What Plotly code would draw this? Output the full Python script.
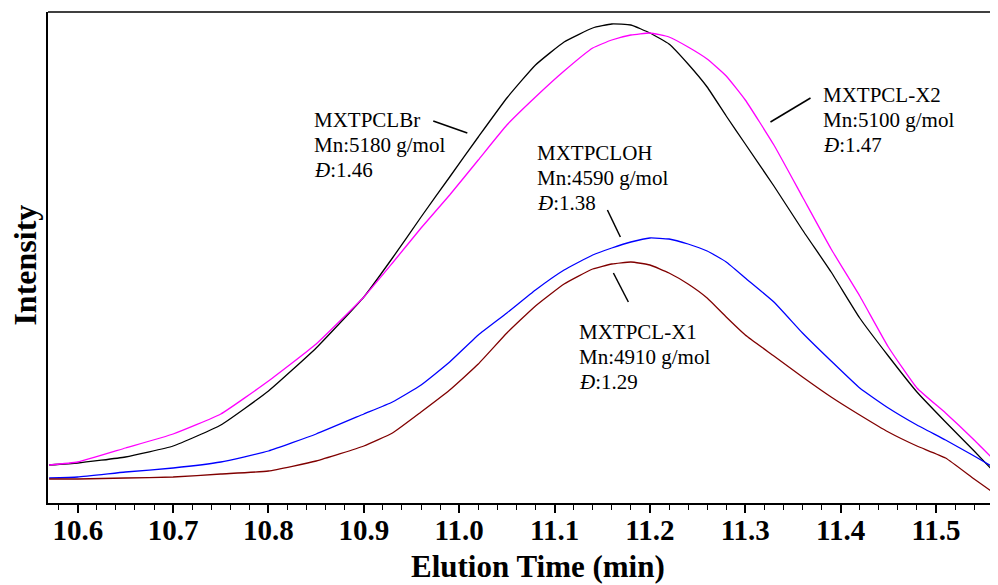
import plotly.graph_objects as go

# Elution time (min)
elution_time = [10.57, 10.60, 10.65, 10.70, 10.75, 10.80, 10.85, 10.90, 10.93, 10.96,
                10.99, 11.02, 11.05, 11.08, 11.11, 11.14, 11.16, 11.18, 11.20, 11.22,
                11.24, 11.26, 11.28, 11.30, 11.33, 11.36, 11.39, 11.42, 11.45, 11.48,
                11.51, 11.54, 11.565]

# Intensity (arbitrary units)
mxtpclbr = [38, 40, 46, 57, 78, 112, 155, 206, 245, 286, 326, 366, 405, 438, 461, 475,
            479, 478, 470, 459, 439, 416, 387, 359, 317, 273, 231, 185, 147, 111, 81, 52, 27]
mxtpcl_x2 = [38, 41, 55, 69, 89, 122, 159, 206, 240, 275, 308, 343, 378, 406, 432, 455,
             463, 468, 470, 466, 456, 444, 427, 403, 358, 306, 254, 207, 156, 115, 90, 63, 39]
mxtpcloh = [25, 26, 31, 35, 41, 52, 69, 89, 101, 118, 141, 168, 190, 213, 233, 248,
            255, 261, 265, 264, 259, 252, 241, 225, 201, 170, 142, 115, 95, 78, 63, 47, 33]
mxtpcl_x1 = [24, 24, 25, 26, 29, 32, 42, 57, 70, 91, 113, 139, 170, 197, 219, 234,
             239, 241, 238, 230, 219, 205, 186, 168, 147, 126, 106, 88, 71, 57, 45, 24, 7]

series_names = ["MXTPCLBr", "MXTPCL-X2", "MXTPCLOH", "MXTPCL-X1"]
series_values = [mxtpclbr, mxtpcl_x2, mxtpcloh, mxtpcl_x1]
series_colors = ["#000000", "#FF00FF", "#0000FF", "#800000"]

x_ticks = [10.6, 10.7, 10.8, 10.9, 11.0, 11.1, 11.2, 11.3, 11.4, 11.5]
x_tick_labels = ["10.6", "10.7", "10.8", "10.9", "11.0", "11.1", "11.2", "11.3", "11.4", "11.5"]

# label texts: (name, Mn, dispersity)
labels = [
    ("MXTPCLBr", "5180", "1.46"),
    ("MXTPCLOH", "4590", "1.38"),
    ("MXTPCL-X1", "4910", "1.29"),
    ("MXTPCL-X2", "5100", "1.47"),
]
# label anchor (left x, intensity of middle line)
label_pos = [(10.846, 358), (11.079, 325), (11.124, 146), (11.379, 383)]
line_gap = 25
pointer_lines = [((10.9728, 382), (11.0085, 370)),
                 ((11.1554, 293), (11.1690, 266)),
                 ((11.1617, 230), (11.1774, 201)),
                 ((11.3264, 381), (11.3684, 405))]

SERIF = "Liberation Serif, Times New Roman, serif"

fig = go.Figure()
for name, vals, col in zip(series_names, series_values, series_colors):
    fig.add_trace(go.Scatter(x=elution_time, y=vals, mode="lines", name=name,
                             line=dict(color=col, width=1.3, shape="spline", smoothing=0.4),
                             hoverinfo="skip"))

for (name, mn, d), (lx, ly) in zip(labels, label_pos):
    rows = [name, f"Mn:{mn} g/mol", f"<i>Đ</i>:{d}"]
    for i, row in enumerate(rows):
        fig.add_annotation(x=lx, y=ly + (1 - i) * line_gap, xref="x", yref="y",
                           xanchor="left", yanchor="middle", align="left", showarrow=False,
                           text=row, font=dict(family=SERIF, size=21, color="#000000"))

for (p0, p1) in pointer_lines:
    fig.add_shape(type="line", xref="x", yref="y", x0=p0[0], y0=p0[1], x1=p1[0], y1=p1[1],
                  line=dict(color="#000000", width=1.5))

# top border
fig.add_shape(type="line", xref="paper", yref="paper", x0=0, y0=1, x1=1, y1=1,
              line=dict(color="#000000", width=1.5))

fig.add_annotation(x=0.516, y=-0.129, xref="paper", yref="paper", showarrow=False,
                   text="<b>Elution Time (min)</b>", xanchor="center", yanchor="middle",
                   font=dict(family=SERIF, size=31, color="#000000"))
fig.add_annotation(x=-0.0245, y=0.485, xref="paper", yref="paper", showarrow=False,
                   text="<b>Intensity</b>", textangle=-90, xanchor="center", yanchor="middle",
                   font=dict(family=SERIF, size=32, color="#000000"))

fig.update_layout(
    width=990, height=577,
    margin=dict(l=40, r=0, t=4, b=82),
    paper_bgcolor="white", plot_bgcolor="white",
    showlegend=False,
    xaxis=dict(range=[10.5688, 11.565], tickmode="array", tickvals=x_ticks,
               ticktext=x_tick_labels, ticks="outside", ticklen=8, tickwidth=1.5,
               tickcolor="#000000", showline=True, linecolor="#000000", linewidth=1.5,
               showgrid=False, zeroline=False, ticklabelstandoff=-8,
               tickfont=dict(family=SERIF, size=29, color="#000000", weight="bold"),
               minor=dict(dtick=0.02, tick0=10.6, ticks="outside", ticklen=5,
                          tickwidth=1.2, tickcolor="#000000", showgrid=False)),
    yaxis=dict(range=[0, 491], showticklabels=False, ticks="", showline=True,
               linecolor="#000000", linewidth=1.5, showgrid=False, zeroline=False),
)

fig.write_html("out.html")
